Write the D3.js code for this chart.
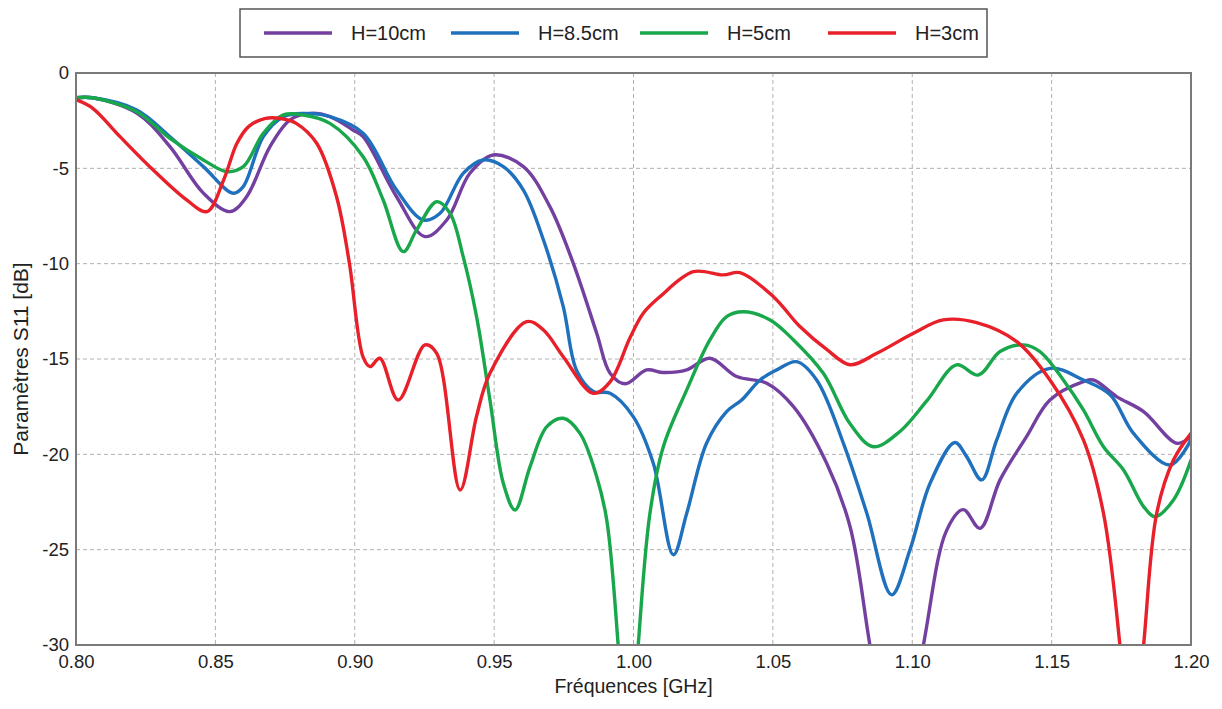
<!DOCTYPE html>
<html>
<head>
<meta charset="utf-8">
<script src="https://cdn.jsdelivr.net/npm/d3@7"></script>
<style>
  html, body { margin: 0; padding: 0; background: #fff; }
  svg { display: block; font-family: "Liberation Sans", Arial, sans-serif; }
</style>
</head>
<body>
<svg id="chart" width="1222" height="709"></svg>
<script>
// ---- data (frequency in GHz, S11 in dB) ----
const seriesNames = ["H=10cm", "H=8.5cm", "H=5cm", "H=3cm"];
const seriesColors = ["#7440a0", "#1f70bd", "#18a74b", "#e8202a"];

const freq10 = [0.800,0.806,0.8218,0.8337,0.8457,0.8552,0.8612,0.8696,0.8768,0.884,0.8911,0.8995,0.903,0.915,0.9252,0.933,0.9413,0.9497,0.9605,0.970,0.9784,0.9868,0.9916,0.997,1.0047,1.0107,1.0191,1.0274,1.037,1.0478,1.0574,1.0693,1.0777,1.0848,1.094,1.104,1.1123,1.1183,1.1243,1.1315,1.141,1.1494,1.1614,1.165,1.1733,1.183,1.1949,1.200];
const s11_10 = [-1.3,-1.3,-2.1,-3.86,-6.3,-7.27,-6.49,-3.86,-2.46,-2.12,-2.29,-3.0,-3.34,-6.49,-8.58,-7.71,-5.26,-4.3,-4.91,-7.01,-9.98,-13.65,-15.75,-16.3,-15.57,-15.71,-15.57,-14.96,-15.92,-16.27,-17.5,-20.47,-23.8,-30,-38,-30,-24.0,-22.9,-23.88,-21.34,-19.07,-17.15,-16.19,-16.1,-16.97,-17.76,-19.42,-19.07];

const freq85 = [0.800,0.806,0.8218,0.8337,0.8457,0.8564,0.860,0.8672,0.8744,0.8815,0.8911,0.903,0.915,0.9246,0.9306,0.9389,0.9461,0.9533,0.9605,0.9677,0.9748,0.9796,0.9856,0.9916,0.9999,1.0071,1.0143,1.0191,1.0262,1.0334,1.0388,1.0454,1.0514,1.0585,1.0657,1.0753,1.0837,1.0926,1.0992,1.1064,1.1153,1.1195,1.1249,1.1303,1.1375,1.1494,1.1614,1.171,1.1793,1.1925,1.200];
const s11_85 = [-1.3,-1.3,-1.94,-3.34,-4.91,-6.31,-5.96,-3.34,-2.29,-2.12,-2.29,-3.16,-6.14,-7.71,-7.36,-5.26,-4.56,-4.91,-6.14,-8.76,-12.25,-15.6,-16.7,-16.8,-18.02,-20.47,-25.27,-23.09,-19.42,-17.76,-17.15,-16.1,-15.57,-15.14,-16.1,-19.42,-23.09,-27.37,-25.0,-21.52,-19.38,-20.12,-21.34,-19.24,-16.8,-15.49,-16.1,-16.88,-18.89,-20.56,-19.24];

const freq5 = [0.800,0.806,0.8218,0.8337,0.8457,0.854,0.860,0.8672,0.8744,0.8815,0.8911,0.903,0.9102,0.9174,0.9222,0.9294,0.9342,0.9389,0.9437,0.9485,0.9533,0.9575,0.9629,0.9689,0.9748,0.9808,0.9868,0.9904,0.9945,0.998,1.0017,1.0059,1.0107,1.0191,1.0274,1.0334,1.0394,1.049,1.0574,1.0681,1.0777,1.086,1.0956,1.1052,1.1159,1.1237,1.1315,1.1399,1.1458,1.1542,1.1614,1.1686,1.1758,1.183,1.1871,1.1937,1.200];
const s11_5 = [-1.3,-1.3,-2.03,-3.43,-4.56,-5.17,-4.91,-3.16,-2.2,-2.2,-2.64,-4.39,-6.66,-9.37,-8.23,-6.75,-7.36,-9.63,-12.78,-17.15,-21.52,-22.92,-20.64,-18.55,-18.11,-18.9,-21.17,-23.44,-30,-38,-30,-23.09,-19.6,-16.62,-14.0,-12.78,-12.52,-12.95,-14.0,-15.75,-18.4,-19.6,-18.8,-17.2,-15.31,-15.84,-14.61,-14.26,-14.61,-16.1,-17.67,-19.6,-20.82,-22.74,-23.27,-22.39,-20.3];

const freq3 = [0.800,0.806,0.8158,0.8277,0.8397,0.847,0.853,0.8577,0.862,0.868,0.874,0.879,0.8864,0.8935,0.898,0.903,0.9055,0.909,0.9156,0.9252,0.9294,0.9378,0.9437,0.9485,0.9617,0.9677,0.9748,0.9856,0.9916,0.9987,1.0035,1.0095,1.0215,1.0322,1.0382,1.0502,1.0597,1.0693,1.0777,1.0873,1.1004,1.1111,1.1231,1.1375,1.1494,1.1614,1.1686,1.1745,1.1785,1.183,1.1877,1.1937,1.200];
const s11_3 = [-1.4,-1.85,-3.34,-5.09,-6.66,-7.27,-5.6,-3.7,-2.8,-2.38,-2.4,-2.64,-3.7,-6.5,-9.9,-14.9,-15.4,-14.96,-17.15,-14.26,-14.7,-21.87,-18.0,-15.75,-13.04,-13.48,-14.88,-16.8,-16.2,-13.9,-12.6,-11.73,-10.42,-10.59,-10.47,-11.73,-13.3,-14.5,-15.3,-14.7,-13.65,-12.95,-13.09,-14.09,-16.1,-19.24,-23.09,-30,-37,-30,-23.09,-20.3,-18.9];

const xTicks = [0.80,0.85,0.90,0.95,1.00,1.05,1.10,1.15,1.20];
const yTicks = [0,-5,-10,-15,-20,-25,-30];
const xTitle = "Fréquences [GHz]";
const yTitle = "Paramètres S11 [dB]";

const series = [
  {name: seriesNames[0], color: seriesColors[0], f: freq10, v: s11_10},
  {name: seriesNames[1], color: seriesColors[1], f: freq85, v: s11_85},
  {name: seriesNames[2], color: seriesColors[2], f: freq5,  v: s11_5},
  {name: seriesNames[3], color: seriesColors[3], f: freq3,  v: s11_3}
];

// ---- layout ----
const L = 76, R = 1191, T = 73, B = 645;
const svg = d3.select("#chart");
const x = d3.scaleLinear().domain([0.80, 1.20]).range([L, R]);
const y = d3.scaleLinear().domain([-30, 0]).range([B, T]);

// grid
const grid = svg.append("g");
grid.selectAll("line.vx").data(xTicks.slice(1, -1)).join("line")
  .attr("x1", d => x(d)).attr("x2", d => x(d)).attr("y1", T).attr("y2", B)
  .attr("stroke", "#b0b0b0").attr("stroke-width", 1).attr("stroke-dasharray", "4,3");
grid.selectAll("line.hy").data(yTicks.slice(1, -1)).join("line")
  .attr("y1", d => y(d)).attr("y2", d => y(d)).attr("x1", L).attr("x2", R)
  .attr("stroke", "#b0b0b0").attr("stroke-width", 1).attr("stroke-dasharray", "4,3");

// clip
svg.append("defs").append("clipPath").attr("id", "plotclip")
  .append("rect").attr("x", L).attr("y", T).attr("width", R - L).attr("height", B - T);

const line = d3.line()
  .x(d => x(d[0])).y(d => y(d[1]))
  .curve(d3.curveCatmullRom.alpha(0.5));

const lines = svg.append("g").attr("clip-path", "url(#plotclip)");
series.forEach(s => {
  const pts = s.f.map((f, i) => [f, s.v[i]]);
  lines.append("path").datum(pts)
    .attr("d", line).attr("fill", "none")
    .attr("stroke", s.color).attr("stroke-width", 3.4)
    .attr("stroke-linejoin", "round").attr("stroke-linecap", "round");
});

// frame
svg.append("rect").attr("x", L).attr("y", T).attr("width", R - L).attr("height", B - T)
  .attr("fill", "none").attr("stroke", "#7a7a7a").attr("stroke-width", 2);

// axes (labels only, via d3 axes)
const xAxis = svg.append("g").attr("transform", `translate(0,${B})`)
  .call(d3.axisBottom(x).tickValues(xTicks).tickFormat(d3.format(".2f")).tickSize(0).tickPadding(10));
xAxis.select(".domain").remove();
xAxis.selectAll("text").attr("font-size", 18.5).attr("fill", "#222")
  .attr("font-family", "Liberation Sans, Arial, sans-serif");

const yAxis = svg.append("g").attr("transform", `translate(${L},0)`)
  .call(d3.axisLeft(y).tickValues(yTicks).tickFormat(d => String(d)).tickSize(0).tickPadding(7));
yAxis.select(".domain").remove();
yAxis.selectAll("text").attr("font-size", 18.5).attr("fill", "#222")
  .attr("font-family", "Liberation Sans, Arial, sans-serif");

// titles
svg.append("text").attr("x", (L + R) / 2).attr("y", 693).attr("text-anchor", "middle")
  .attr("font-size", 19.5).attr("fill", "#222").text(xTitle);
svg.append("text").attr("transform", `translate(28,${(T + B) / 2}) rotate(-90)`)
  .attr("text-anchor", "middle").attr("font-size", 21).attr("fill", "#222").text(yTitle);

// legend
const lg = svg.append("g");
lg.append("rect").attr("x", 240).attr("y", 9).attr("width", 747).attr("height", 48)
  .attr("fill", "#fff").attr("stroke", "#555").attr("stroke-width", 1.5);
const legX = [264, 451, 640, 828];
series.forEach((s, i) => {
  lg.append("line").attr("x1", legX[i]).attr("x2", legX[i] + 68).attr("y1", 33).attr("y2", 33)
    .attr("stroke", s.color).attr("stroke-width", 3.5);
  lg.append("text").attr("x", legX[i] + 87).attr("y", 40).attr("font-size", 20)
    .attr("fill", "#222").text(s.name);
});
</script>
</body>
</html>
